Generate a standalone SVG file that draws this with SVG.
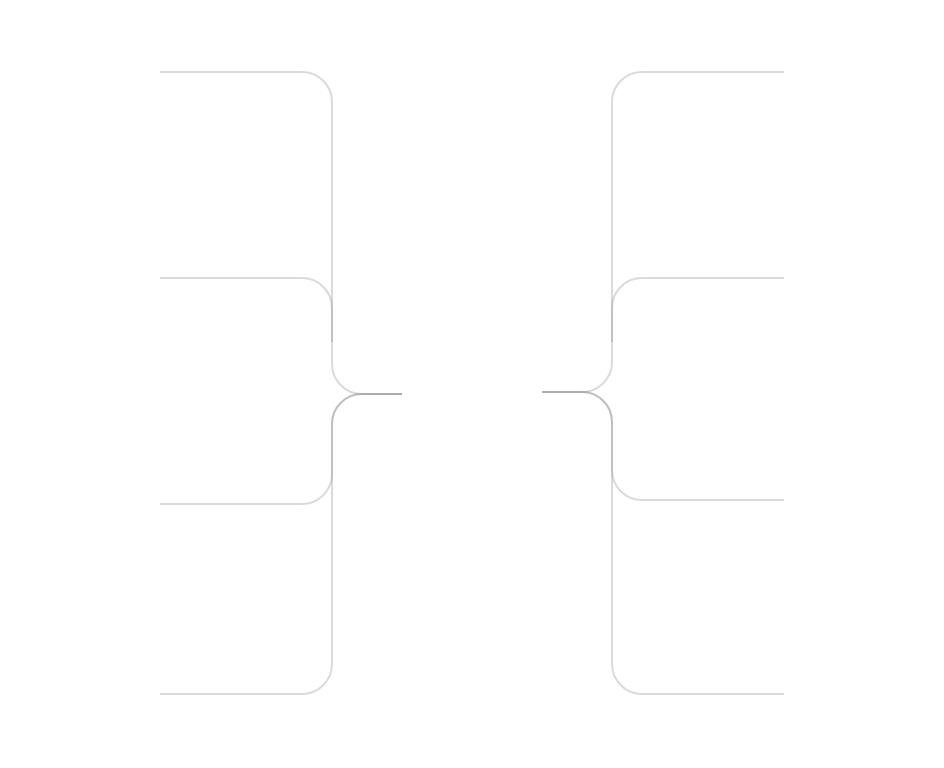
<svg xmlns="http://www.w3.org/2000/svg" width="944" height="768" viewBox="0 0 944 768">
<style>
.c{fill:none;stroke:#7a7a7a;stroke-opacity:0.28;stroke-width:2}
</style>
<rect width="944" height="768" fill="#ffffff"/>
<g id="connectors">
<path class="c" d="M402,394 H362 A30,30 0 0 1 332,364 V102 A30,30 0 0 0 302,72 H160"/>
<path class="c" d="M332,342 V308 A30,30 0 0 0 302,278 H160"/>
<path class="c" d="M402,394 H362 A30,30 0 0 0 332,424 V474 A30,30 0 0 1 302,504 H160"/>
<path class="c" d="M402,394 H362 A30,30 0 0 0 332,424 V664 A30,30 0 0 1 302,694 H160"/>
<path class="c" d="M542,392 H582 A30,30 0 0 0 612,362 V102 A30,30 0 0 1 642,72 H784"/>
<path class="c" d="M612,342 V308 A30,30 0 0 1 642,278 H784"/>
<path class="c" d="M542,392 H582 A30,30 0 0 1 612,422 V470 A30,30 0 0 0 642,500 H784"/>
<path class="c" d="M542,392 H582 A30,30 0 0 1 612,422 V664 A30,30 0 0 0 642,694 H784"/>
</g>
</svg>
